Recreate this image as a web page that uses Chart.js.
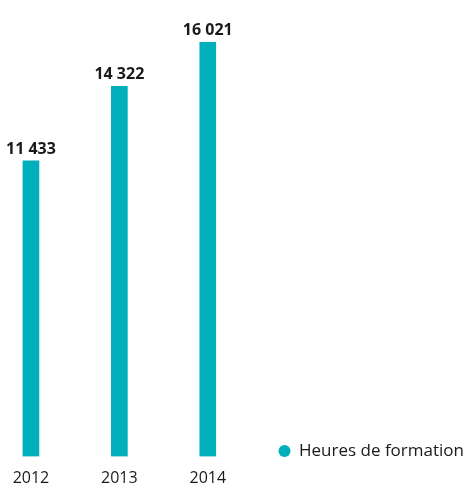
<!DOCTYPE html>
<html>
<head>
<meta charset="utf-8">
<script src="https://cdn.jsdelivr.net/npm/chart.js@4.4.1/dist/chart.umd.min.js"></script>
<style>
  html, body { margin: 0; padding: 0; background: #fff; }
  #wrap { position: relative; width: 466px; height: 486px; }
</style>
</head>
<body>
<div id="wrap"><canvas id="hours-chart"></canvas></div>
<script>
// Heures de formation par année
const years = [2012, 2013, 2014];
const hours = [11433, 14322, 16021];
const seriesLabel = 'Heures de formation';

const teal = '#00aebc';
const textColor = '#1a1a1a';
const fontFamily = '"Open Sans", sans-serif';

function formatFr(n) {
    return String(n).replace(/\B(?=(\d{3})+(?!\d))/g, ' ');
}

// value labels above bars
const barValues = {
    id: 'barValues',
    afterDatasetsDraw(chart) {
        const ctx = chart.ctx;
        const meta = chart.getDatasetMeta(0);
        ctx.save();
        ctx.font = 'bold 16px ' + fontFamily;
        ctx.fillStyle = textColor;
        ctx.textAlign = 'center';
        ctx.textBaseline = 'alphabetic';
        meta.data.forEach((bar, i) => {
            ctx.fillText(formatFr(hours[i]), bar.x, bar.y - 7);
        });
        ctx.restore();
    }
};

new Chart(document.getElementById('hours-chart'), {
    type: 'bar',
    data: {
        datasets: [{
            label: seriesLabel,
            data: years.map((y, i) => ({ x: y, y: hours[i] })),
            backgroundColor: teal,
            barThickness: 16
        }]
    },
    options: {
        responsive: true,
        maintainAspectRatio: false,
        animation: false,
        layout: { padding: { left: 0, top: 17, right: 0, bottom: 0 } },
        plugins: {
            tooltip: { enabled: false },
            legend: {
                position: 'right',
                align: 'end',
                maxWidth: 214,
                labels: {
                    usePointStyle: true,
                    pointStyle: 'circle',
                    boxWidth: 12,
                    boxHeight: 8.5,
                    padding: 26.5,
                    color: textColor,
                    font: { family: fontFamily, size: 17 }
                }
            }
        },
        scales: {
            x: {
                type: 'linear',
                offset: false,
                min: 2011.65,
                max: 2014.5,
                grid: { display: false, drawTicks: false },
                border: { display: false },
                afterFit: (axis) => { axis.height = 29.5; },
                ticks: {
                    stepSize: 1,
                    includeBounds: false,
                    padding: 12.4,
                    color: textColor,
                    font: { family: fontFamily, size: 16 },
                    callback: (v) => String(v)
                }
            },
            y: {
                display: false,
                min: 0,
                max: 17000
            }
        }
    },
    plugins: [barValues]
});
</script>
</body>
</html>
